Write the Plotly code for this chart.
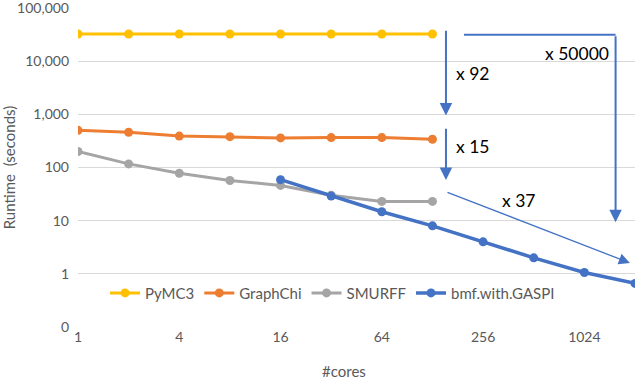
import math
import plotly.graph_objects as go

cores = [1, 2, 4, 8, 16, 32, 64, 128, 256, 512, 1024, 2048]

pymc3 = [32500, 32500, 32500, 32500, 32500, 32500, 32500, 32500]
graphchi = [500, 460, 390, 380, 360, 365, 365, 340]
smurff = [200, 117, 78, 57, 46, 30, 23, 23]
bmf_cores = [16, 32, 64, 128, 256, 512, 1024, 2048]
bmf_gaspi = [59, 29, 14.7, 8.0, 4.0, 2.0, 1.06, 0.66]

y_ticks = [0.1, 1, 10, 100, 1000, 10000, 100000]
y_labels = ["0", "1", "10", "100", "1,000", "10,000", "100,000"]
x_ticks = [1, 4, 16, 64, 256, 1024]

FONT = "Lato, 'Open Sans', sans-serif"
GREY = "#595959"

series = [
    ("PyMC3", cores[:8], pymc3, "#FFC000", 3),
    ("GraphChi", cores[:8], graphchi, "#ED7D31", 3),
    ("SMURFF", cores[:8], smurff, "#A5A5A5", 3),
    ("bmf.with.GASPI", bmf_cores, bmf_gaspi, "#4472C4", 3.5),
]

fig = go.Figure()
for name, xs, ys, color, lw in series:
    fig.add_trace(
        go.Scatter(
            x=xs,
            y=ys,
            mode="lines+markers",
            name=name,
            line=dict(color=color, width=lw),
            marker=dict(color=color, size=9),
        )
    )


def lx(c):
    # annotation position on a log axis
    return math.log10(c)


ARROW = "#4472C4"
# speed-up arrows (tail -> head), in cores / seconds
arrows = [
    ((154, 40000), (154, 950), 2),
    ((154, 570), (154, 58), 2),
    ((154, 35), (1910, 1.6), 1.3),
    ((1570, 31500), (1570, 9.3), 2),
]
for (x0, y0), (x1, y1), w in arrows:
    fig.add_annotation(
        x=lx(x1), y=lx(y1), ax=lx(x0), ay=lx(y0),
        xref="x", yref="y", axref="x", ayref="y",
        text="", showarrow=True, arrowhead=2,
        arrowsize=1.7 if w < 2 else 1.25,
        arrowwidth=w, arrowcolor=ARROW,
    )

# horizontal part of the x 50000 bracket (shapes take data values)
fig.add_shape(
    type="line", xref="x", yref="y",
    x0=197, x1=1570, y0=31500, y1=31500,
    line=dict(color=ARROW, width=2),
)

labels = [
    ("x 50000", 930, 14000),
    ("x 92", 223, 5900),
    ("x 15", 223, 250),
    ("x 37", 416, 23.6),
]
for txt, xc, yc in labels:
    fig.add_annotation(
        x=lx(xc), y=lx(yc), xref="x", yref="y",
        text=txt, showarrow=False,
        font=dict(family=FONT, size=17.5, color="black"),
    )

# x axis title, slightly left of centre like the original
fig.add_annotation(
    x=0.478, y=-0.105, xref="paper", yref="paper",
    xanchor="center", yanchor="top", showarrow=False,
    text="#cores", font=dict(family=FONT, size=15, color=GREY),
)

fig.update_layout(
    width=640,
    height=380,
    margin=dict(l=78, r=5, t=8, b=53),
    paper_bgcolor="white",
    plot_bgcolor="white",
    font=dict(family=FONT, size=14, color=GREY),
    showlegend=True,
    legend=dict(
        orientation="h",
        x=0.457, xanchor="center",
        y=0.106, yanchor="middle",
        font=dict(family=FONT, size=15, color=GREY),
        bgcolor="rgba(0,0,0,0)",
        itemwidth=30,
    ),
)

fig.update_xaxes(
    type="log",
    range=[0, math.log10(2048)],
    tickvals=x_ticks,
    ticktext=[str(v) for v in x_ticks],
    showgrid=False,
    zeroline=False,
    showline=False,
    ticks="",
    automargin=False,
    tickfont=dict(size=14, color=GREY),
)
fig.update_yaxes(
    type="log",
    range=[-1.0005, 5.0005],
    tickvals=y_ticks,
    ticktext=y_labels,
    showgrid=True,
    gridcolor="#D9D9D9",
    gridwidth=1.3,
    zeroline=False,
    showline=False,
    ticks="",
    automargin=False,
    ticklabeloverflow="allow",
    ticklabelstandoff=8,
    tickfont=dict(size=14, color=GREY),
    title=dict(text="Runtime  (seconds)", font=dict(size=15, color=GREY), standoff=8),
)

fig.write_html(
    "out.html",
    config={"displayModeBar": False},
    post_script="document.body.style.margin='0';",
)
